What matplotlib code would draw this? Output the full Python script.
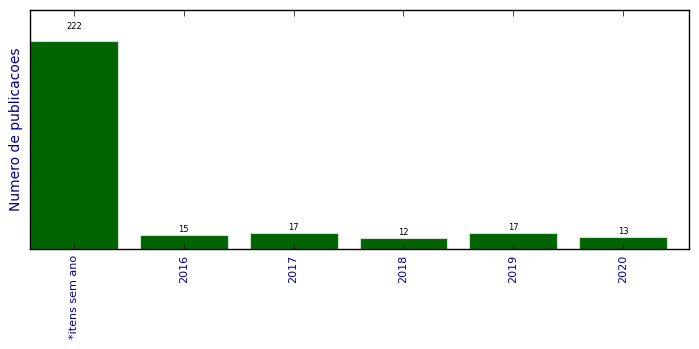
import matplotlib
matplotlib.use("Agg")
import matplotlib.pyplot as plt

categorias = ["*itens sem ano", "2016", "2017", "2018", "2019", "2020"]
publicacoes = [222, 15, 17, 12, 17, 13]

plt.style.use("classic")
fig = plt.figure(figsize=(6.99, 3.49), dpi=100)
ax = fig.add_axes([30 / 699, 100 / 349, 659 / 699, 239 / 349])

pos = list(range(len(categorias)))
ax.bar(pos, publicacoes, width=0.8, align="center", color="#006400",
       edgecolor="#cfe0cf", linewidth=0.8)

for x, v in zip(pos, publicacoes):
    ax.text(x, v * 1.05, str(v), ha="center", va="bottom", fontsize=6)

ax.set_xlim(-0.4, 5.6)
ax.set_ylim(0, 255)
ax.set_yticks([])
ax.set_xticks(pos)
ax.set_xticklabels(categorias, rotation=90, color="darkblue", fontsize=8)
ax.set_ylabel("Numero de publicacoes", color="darkblue", fontsize=10)

fig.savefig("out.png", dpi=100)
